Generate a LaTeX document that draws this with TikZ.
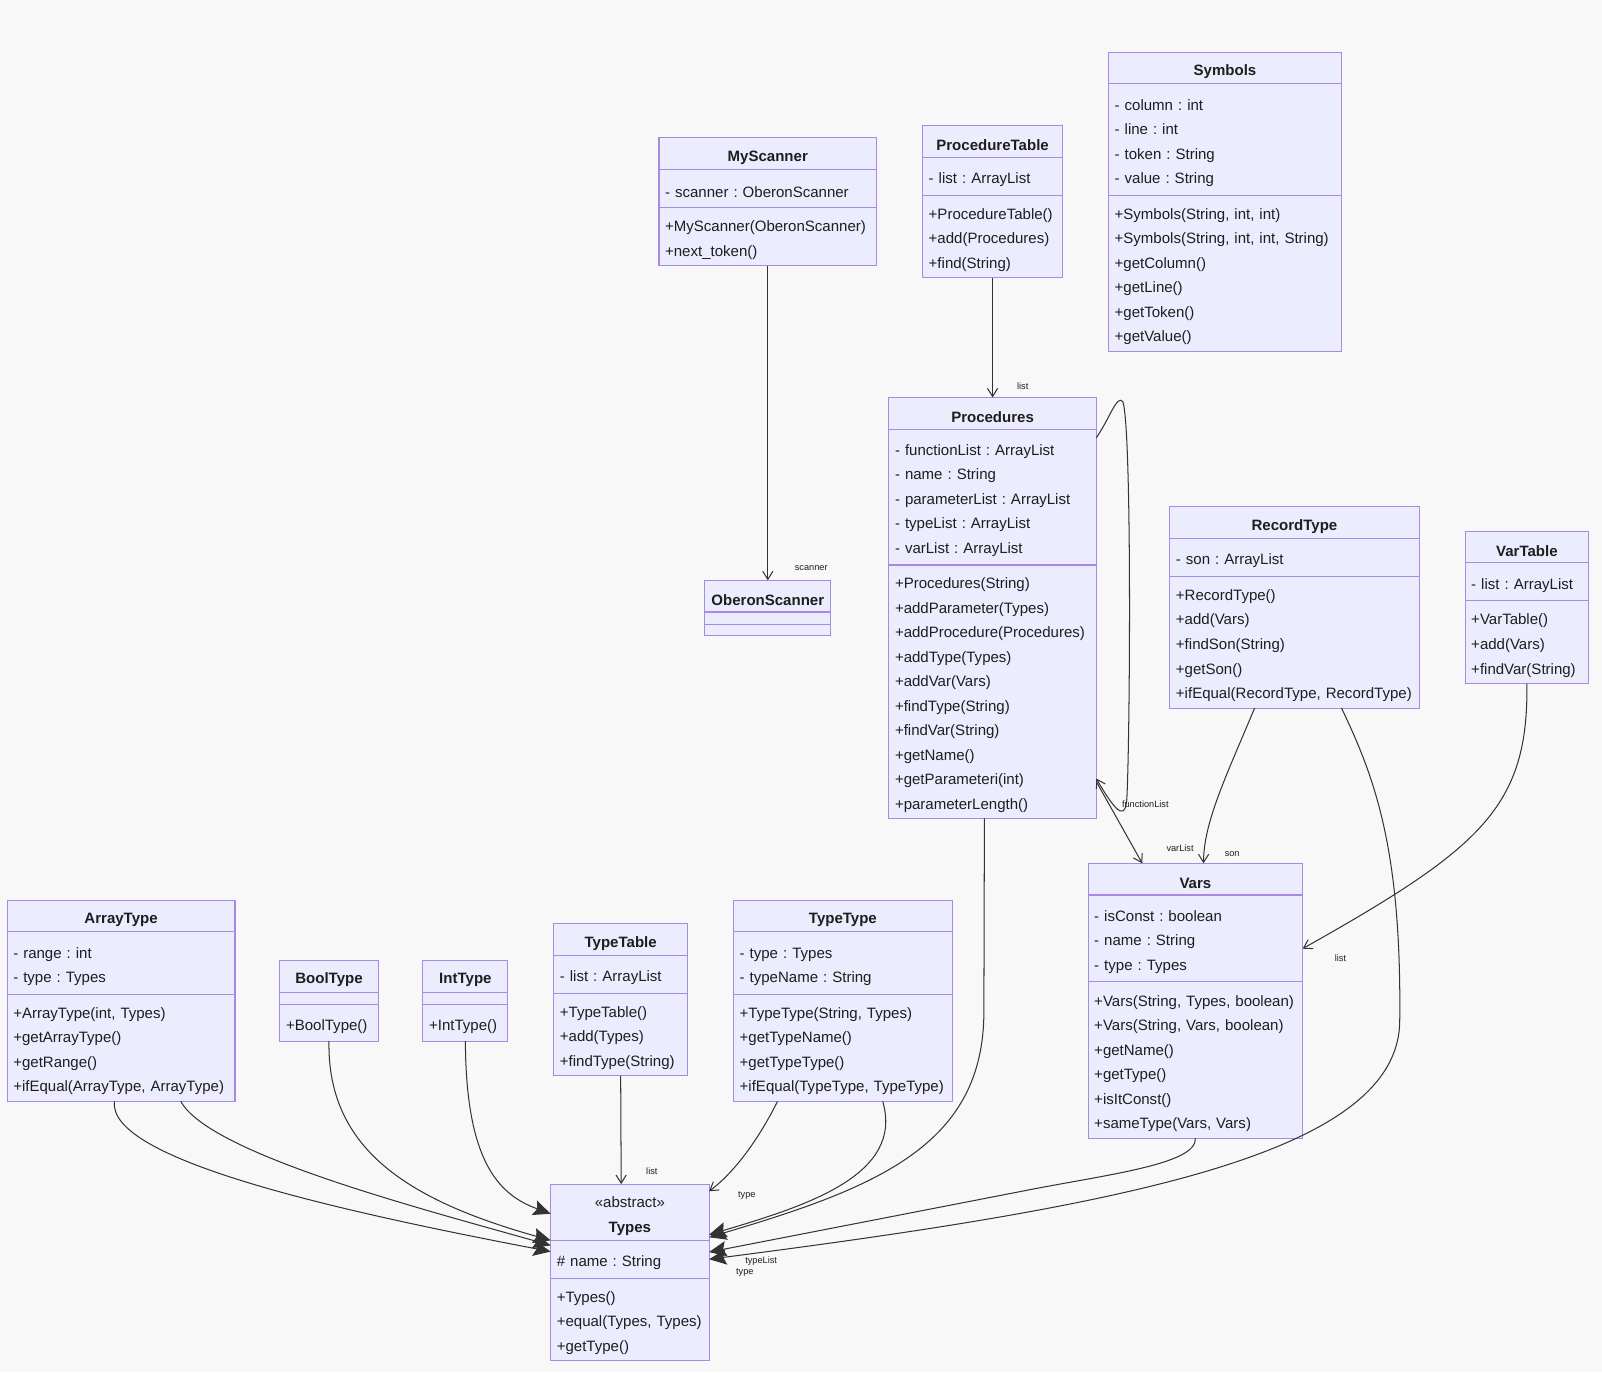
\documentclass[tikz,border=0pt]{standalone}
\usepackage{fontspec}
\setmainfont{Liberation Sans}
\usetikzlibrary{positioning,arrows.meta}
\frenchspacing

\definecolor{umlfill}{HTML}{ECECFF}
\definecolor{umlline}{HTML}{A88BE0}
\definecolor{edgegray}{HTML}{333333}
\definecolor{textdark}{HTML}{1E1E1E}
\definecolor{canvas}{HTML}{F8F8F8}

\begin{document}
\begin{tikzpicture}[
        x=1pt,
        y=-1pt,
        every node/.style={font=\fontsize{14.7}{24}\selectfont, text=textdark},
        classempty/.style={draw=umlline, fill=umlfill, line width=1pt, inner xsep=6pt, inner ysep=0pt,
            outer sep=0pt, align=left},
        classhead/.style={classempty, align=center, minimum height=31pt,
            font=\fontsize{14.7}{24}\selectfont\bfseries, execute at begin node={\rule{0pt}{18pt}}},
        classbody/.style={classempty, execute at begin node={\rule{0pt}{17.5pt}}},
        assoc/.style={draw=edgegray, line width=1pt, -{Straight Barb[length=8pt,width=10pt]}},
        inherit/.style={draw=edgegray, line width=1pt, -{Stealth[length=17pt,width=15pt,inset=3pt]}},
        edgelabel/.style={font=\fontsize{9}{10}\selectfont, inner sep=1pt}
    ]
        % Canvas
        \fill[canvas] (0,0) rectangle (1568,1343);

        % Symbols
        \node[classhead, text width=216pt, anchor=north west] (symbols) at (1085,51) {Symbols};
        \node[classbody, text width=216pt, minimum height=109pt, below=0pt of symbols] (symbols-attr)
            {- column : int\\- line : int\\- token : String\\- value : String};
        \node[classbody, text width=216pt, minimum height=153pt, below=0pt of symbols-attr] (symbols-ops)
            {+Symbols(String, int, int)\\+Symbols(String, int, int, String)\\+getColumn()\\+getLine()\\+getToken()\\+getValue()};

        % MyScanner
        \node[classhead, text width=201pt, anchor=north west] (myscanner) at (645,135) {MyScanner};
        \node[classbody, text width=201pt, minimum height=37pt, below=0pt of myscanner] (myscanner-attr)
            {- scanner : OberonScanner};
        \node[classbody, text width=201pt, minimum height=57pt, below=0pt of myscanner-attr] (myscanner-ops)
            {+MyScanner(OberonScanner)\\+next\_token()};

        % ProcedureTable
        \node[classhead, text width=125pt, anchor=north west] (proceduretable) at (903,123) {ProcedureTable};
        \node[classbody, text width=125pt, minimum height=37pt, below=0pt of proceduretable] (proceduretable-attr)
            {- list : ArrayList};
        \node[classbody, text width=125pt, minimum height=81pt, below=0pt of proceduretable-attr] (proceduretable-ops)
            {+ProcedureTable()\\+add(Procedures)\\+find(String)};

        % Procedures
        \node[classhead, text width=191pt, anchor=north west] (procedures) at (870,389) {Procedures};
        \node[classbody, text width=191pt, minimum height=133pt, below=0pt of procedures] (procedures-attr)
            {- functionList : ArrayList\\- name : String\\- parameterList : ArrayList\\- typeList : ArrayList\\- varList : ArrayList};
        \node[classbody, text width=191pt, minimum height=248pt, below=0pt of procedures-attr] (procedures-ops)
            {+Procedures(String)\\+addParameter(Types)\\+addProcedure(Procedures)\\+addType(Types)\\+addVar(Vars)\\
             +findType(String)\\+findVar(String)\\+getName()\\+getParameteri(int)\\+parameterLength()};

        % OberonScanner
        \node[classhead, text width=111pt, anchor=north west] (oberonscanner) at (690,568) {OberonScanner};
        \node[classempty, text width=111pt, minimum height=12pt, below=0pt of oberonscanner] (oberonscanner-attr) {};
        \node[classempty, text width=111pt, minimum height=11pt, below=0pt of oberonscanner-attr] (oberonscanner-ops) {};

        % RecordType
        \node[classhead, text width=232pt, anchor=north west] (recordtype) at (1145,496) {RecordType};
        \node[classbody, text width=232pt, minimum height=37pt, below=0pt of recordtype] (recordtype-attr)
            {- son : ArrayList};
        \node[classbody, text width=232pt, minimum height=129pt, below=0pt of recordtype-attr] (recordtype-ops)
            {+RecordType()\\+add(Vars)\\+findSon(String)\\+getSon()\\+ifEqual(RecordType, RecordType)};

        % VarTable
        \node[classhead, text width=109pt, anchor=north west] (vartable) at (1434,520) {VarTable};
        \node[classbody, text width=109pt, minimum height=37pt, below=0pt of vartable] (vartable-attr)
            {- list : ArrayList};
        \node[classbody, text width=109pt, minimum height=81pt, below=0pt of vartable-attr] (vartable-ops)
            {+VarTable()\\+add(Vars)\\+findVar(String)};

        % Vars
        \node[classhead, text width=198pt, anchor=north west] (vars) at (1065,845) {Vars};
        \node[classbody, text width=198pt, minimum height=85pt, below=0pt of vars] (vars-attr)
            {- isConst : boolean\\- name : String\\- type : Types};
        \node[classbody, text width=198pt, minimum height=153pt, below=0pt of vars-attr] (vars-ops)
            {+Vars(String, Types, boolean)\\+Vars(String, Vars, boolean)\\+getName()\\+getType()\\+isItConst()\\+sameType(Vars, Vars)};

        % ArrayType
        \node[classhead, text width=211pt, anchor=north west] (arraytype) at (7,881) {ArrayType};
        \node[classbody, text width=211pt, minimum height=61pt, below=0pt of arraytype] (arraytype-attr)
            {- range : int\\- type : Types};
        \node[classbody, text width=211pt, minimum height=105pt, below=0pt of arraytype-attr] (arraytype-ops)
            {+ArrayType(int, Types)\\+getArrayType()\\+getRange()\\+ifEqual(ArrayType, ArrayType)};

        % BoolType
        \node[classhead, text width=84pt, anchor=north west] (booltype) at (274,940) {BoolType};
        \node[classempty, text width=84pt, minimum height=12pt, below=0pt of booltype] (booltype-attr) {};
        \node[classbody, text width=84pt, minimum height=36pt, below=0pt of booltype-attr] (booltype-ops)
            {+BoolType()};

        % IntType
        \node[classhead, text width=71pt, anchor=north west] (inttype) at (414,940) {IntType};
        \node[classempty, text width=71pt, minimum height=12pt, below=0pt of inttype] (inttype-attr) {};
        \node[classbody, text width=71pt, minimum height=36pt, below=0pt of inttype-attr] (inttype-ops)
            {+IntType()};

        % TypeTable
        \node[classhead, text width=119pt, anchor=north west] (typetable) at (542,904) {TypeTable};
        \node[classbody, text width=119pt, minimum height=37pt, below=0pt of typetable] (typetable-attr)
            {- list : ArrayList};
        \node[classbody, text width=119pt, minimum height=81pt, below=0pt of typetable-attr] (typetable-ops)
            {+TypeTable()\\+add(Types)\\+findType(String)};

        % TypeType
        \node[classhead, text width=202pt, anchor=north west] (typetype) at (718,881) {TypeType};
        \node[classbody, text width=202pt, minimum height=61pt, below=0pt of typetype] (typetype-attr)
            {- type : Types\\- typeName : String};
        \node[classbody, text width=202pt, minimum height=105pt, below=0pt of typetype-attr] (typetype-ops)
            {+TypeType(String, Types)\\+getTypeName()\\+getTypeType()\\+ifEqual(TypeType, TypeType)};

        % Types (abstract)
        \node[classhead, text width=143pt, minimum height=55pt, anchor=north west] (types) at (539,1159)
            {\textmd{«abstract»}\\Types};
        \node[classbody, text width=143pt, minimum height=37pt, below=0pt of types] (types-attr)
            {\# name : String};
        \node[classbody, text width=143pt, minimum height=81pt, below=0pt of types-attr] (types-ops)
            {+Types()\\+equal(Types, Types)\\+getType()};

        % Associations
        \draw[assoc] (myscanner-ops) -- (oberonscanner);
        \draw[assoc] (proceduretable-ops) -- (procedures);
        \draw[assoc] ([yshift=58pt]procedures-attr.east) .. controls (1086,410) and (1093,386) .. (1099,393)
            .. controls (1108,420) and (1106,720) .. (1103,780)
            .. controls (1102,800) and (1096,802) .. ([yshift=-85pt]procedures-ops.east);
        \draw[assoc] ([yshift=-88pt]procedures-ops.east) -- ([xshift=-52pt]vars.north);
        \draw[assoc] ([xshift=-39pt]recordtype-ops.south) .. controls (1200,760) and (1178,805) .. ([xshift=8pt]vars.north);
        \draw[assoc] (vartable-ops.south) .. controls (1496,790) and (1450,830) .. ([yshift=-10pt]vars-attr.east);
        \draw[assoc] (typetable-ops.south) -- ([xshift=-8.5pt]types.north);
        \draw[assoc] ([xshift=-64pt]typetype-ops.south) .. controls (745,1110) and (722,1145) .. ([yshift=-7pt]types.north east);

        % Arrows into Types
        \draw[inherit] ([xshift=-6.5pt]arraytype-ops.south) .. controls (105,1135) and (330,1185) .. ([yshift=-11pt]types.south west);
        \draw[inherit] ([xshift=58.5pt]arraytype-ops.south) .. controls (205,1130) and (420,1185) .. ([yshift=-5pt]types.south west);
        \draw[inherit] (booltype-ops.south) .. controls (320,1125) and (400,1175) .. (types.south west);
        \draw[inherit] (inttype-ops.south) .. controls (456,1140) and (490,1170) .. ([yshift=-1.5pt]types.west);
        \draw[inherit] ([xshift=39pt]typetype-ops.south) .. controls (885,1150) and (790,1180) .. ([yshift=-22pt]types.east);
        \draw[inherit] ([xshift=-8pt]procedures-ops.south) -- (963,990) .. controls (963,1120) and (860,1162) .. ([yshift=3pt]types.south east);
        \draw[inherit] (vars-ops.south) .. controls (1172,1140) and (1080,1150) .. (1000,1166) -- ([yshift=7pt]types-attr.east);
        \draw[inherit] ([xshift=46pt]recordtype-ops.south) .. controls (1345,760) and (1372,830) .. (1370,1000)
            .. controls (1368,1130) and (1100,1180) .. (types-attr.east);

        % Edge labels
        \node[edgelabel] (lbl-proclist) at (1001,378) {list};
        \node[edgelabel] (lbl-scanner) at (794,556) {scanner};
        \node[edgelabel] (lbl-funclist) at (1121,787) {functionList};
        \node[edgelabel] (lbl-varlist) at (1155,830) {varList};
        \node[edgelabel] (lbl-son) at (1206,836) {son};
        \node[edgelabel] (lbl-varslist) at (1312,938) {list};
        \node[edgelabel] (lbl-typelist) at (638,1146) {list};
        \node[edgelabel] (lbl-typetype) at (731,1170) {type};
        \node[edgelabel] (lbl-proctypes) at (745,1234) {typeList};
        \node[edgelabel] (lbl-varstype) at (729,1245) {type};
    \end{tikzpicture}
\end{document}
